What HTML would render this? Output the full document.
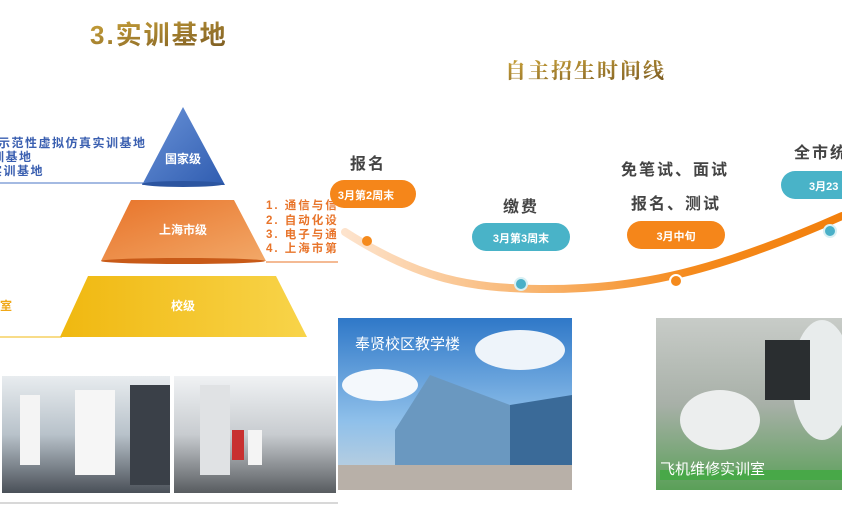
<!DOCTYPE html>
<html><head><meta charset="utf-8"><style>
html,body{margin:0;padding:0;background:#fff;width:842px;height:508px;overflow:hidden}
svg{display:block}
text{font-family:"Liberation Sans","Noto Sans CJK SC",sans-serif}
.s{font-family:"Liberation Serif","Noto Serif CJK SC",serif}
</style></head><body>
<svg width="842" height="508" viewBox="0 0 842 508" xmlns="http://www.w3.org/2000/svg">
<defs>
<linearGradient id="gold" x1="0" y1="0" x2="1" y2="1"><stop offset="0" stop-color="#c9a23a"/><stop offset="1" stop-color="#7a5a22"/></linearGradient>
<linearGradient id="blue" x1="0" y1="0" x2="1" y2="1"><stop offset="0" stop-color="#6a93d8"/><stop offset="1" stop-color="#2f5cb0"/></linearGradient>
<linearGradient id="orange" x1="0" y1="0" x2="1" y2="1"><stop offset="0" stop-color="#e8742a"/><stop offset="1" stop-color="#f2a868"/></linearGradient>
<linearGradient id="yellow" x1="0" y1="0" x2="1" y2="0"><stop offset="0" stop-color="#f0b810"/><stop offset="1" stop-color="#f8d44a"/></linearGradient>
<linearGradient id="curve" x1="0" y1="0" x2="1" y2="0"><stop offset="0" stop-color="#fde3cc"/><stop offset="0.4" stop-color="#f8b26a"/><stop offset="0.7" stop-color="#f58a1c"/><stop offset="1" stop-color="#f27f0c"/></linearGradient>
<linearGradient id="sky" x1="0" y1="0" x2="0" y2="1"><stop offset="0" stop-color="#2f78c8"/><stop offset="0.6" stop-color="#8fc0ea"/><stop offset="1" stop-color="#c8d4dc"/></linearGradient>
<linearGradient id="shop" x1="0" y1="0" x2="0" y2="1"><stop offset="0" stop-color="#c8ccc8"/><stop offset="0.5" stop-color="#a8b0a8"/><stop offset="1" stop-color="#5aa058"/></linearGradient>
<linearGradient id="p1" x1="0" y1="0" x2="0" y2="1"><stop offset="0" stop-color="#e8ecef"/><stop offset="0.5" stop-color="#b8c2ca"/><stop offset="1" stop-color="#4a5058"/></linearGradient>
<linearGradient id="p2" x1="0" y1="0" x2="0" y2="1"><stop offset="0" stop-color="#f0f2f4"/><stop offset="0.5" stop-color="#c8ccd0"/><stop offset="1" stop-color="#585c60"/></linearGradient>
</defs>

<text x="90" y="44" font-size="26" font-weight="bold" fill="url(#gold)" letter-spacing="2">3.实训基地</text>
<line x1="0" y1="183" x2="150" y2="183" stroke="#4a74c4" stroke-width="1"/>
<polygon points="183,107 225,185 142,185" fill="url(#blue)"/>
<ellipse cx="183" cy="184" rx="41" ry="3" fill="#2c55a0"/>
<text x="183" y="163" font-size="12" font-weight="bold" fill="#fff" text-anchor="middle">国家级</text>
<g font-size="12" font-weight="bold" fill="#3a5fb0" letter-spacing="1.5">
<text x="-2" y="147">示范性虚拟仿真实训基地</text>
<text x="-8" y="161">训基地</text>
<text x="-10" y="175">实训基地</text>
</g>
<polygon points="131,200 234,200 266,261 101,261" fill="url(#orange)"/>
<ellipse cx="183" cy="261" rx="82" ry="3" fill="#c85a18"/>
<line x1="266" y1="262" x2="338" y2="262" stroke="#e8742a" stroke-width="1"/>
<text x="183" y="234" font-size="12" font-weight="bold" fill="#fff" text-anchor="middle">上海市级</text>
<g font-size="11.5" font-weight="bold" fill="#e8742a" letter-spacing="2">
<text x="266" y="209">1. 通信与信</text>
<text x="266" y="224">2. 自动化设</text>
<text x="266" y="238">3. 电子与通</text>
<text x="266" y="252">4. 上海市第</text>
</g>
<polygon points="88,276 276,276 307,337 60,337" fill="url(#yellow)"/>
<line x1="0" y1="337" x2="62" y2="337" stroke="#f0b810" stroke-width="1"/>
<text x="183" y="310" font-size="12" font-weight="bold" fill="#fff" text-anchor="middle">校级</text>
<text x="0" y="310" font-size="12" font-weight="bold" fill="#f0a818">室</text>

<rect x="2" y="376" width="168" height="117" fill="url(#p1)"/>
<rect x="20" y="395" width="20" height="70" fill="#f4f4f4"/>
<rect x="75" y="390" width="40" height="85" fill="#f6f6f6"/>
<rect x="130" y="385" width="40" height="100" fill="#3a4048"/>
<rect x="174" y="376" width="162" height="117" fill="url(#p2)"/>
<rect x="200" y="385" width="30" height="90" fill="#e0e2e4"/>
<rect x="232" y="430" width="12" height="30" fill="#c83030"/>
<rect x="248" y="430" width="14" height="35" fill="#f4f4f4"/>
<line x1="0" y1="503" x2="338" y2="503" stroke="#d8d8d8" stroke-width="2"/>

<text x="505" y="78" font-size="21" font-weight="bold" fill="url(#gold)" letter-spacing="2" class="s">自主招生时间线</text>
<path d="M345,232 C420,280 470,288 540,289 C640,290 720,270 842,216" fill="none" stroke="url(#curve)" stroke-width="8" stroke-linecap="round"/>
<circle cx="367" cy="241" r="5" fill="#f58a1c"/>
<circle cx="521" cy="284" r="6" fill="#4ab0c8" stroke="#d8f0f4" stroke-width="2"/>
<circle cx="676" cy="281" r="6" fill="#f58a1c" stroke="#fff" stroke-width="2"/>
<circle cx="830" cy="231" r="6" fill="#4ab0c8" stroke="#d8f0f4" stroke-width="2"/>

<g class="s" font-size="16" fill="#444" font-weight="bold" letter-spacing="2">
<text x="350" y="169">报名</text>
<text x="503" y="212">缴费</text>
<text x="621" y="175">免笔试、面试</text>
<text x="631" y="209">报名、测试</text>
<text x="794" y="158">全市统</text>
</g>
<rect x="330" y="180" width="86" height="28" rx="14" fill="#f5861a"/>
<text x="366" y="199" font-size="11" font-weight="bold" fill="#fff" text-anchor="middle">3月第2周末</text>
<rect x="472" y="223" width="98" height="28" rx="14" fill="#49b3c8"/>
<text x="521" y="242" font-size="11" font-weight="bold" fill="#fff" text-anchor="middle">3月第3周末</text>
<rect x="627" y="221" width="98" height="28" rx="14" fill="#f5861a"/>
<text x="676" y="240" font-size="11" font-weight="bold" fill="#fff" text-anchor="middle">3月中旬</text>
<rect x="781" y="171" width="90" height="28" rx="14" fill="#49b3c8"/>
<text x="809" y="190" font-size="11" font-weight="bold" fill="#fff">3月23</text>

<rect x="338" y="318" width="234" height="172" fill="url(#sky)"/>
<ellipse cx="380" cy="385" rx="38" ry="16" fill="#f4f8fc"/>
<ellipse cx="520" cy="350" rx="45" ry="20" fill="#eef4fa"/>
<polygon points="395,430 430,375 510,405 510,475 395,470" fill="#6a98c0"/>
<polygon points="510,405 572,395 572,470 510,475" fill="#3a6a98"/>
<rect x="338" y="465" width="234" height="25" fill="#b8b0a8"/>
<text x="355" y="349" font-size="15" fill="#fff">奉贤校区教学楼</text>

<rect x="656" y="318" width="186" height="172" fill="url(#shop)"/>
<ellipse cx="822" cy="380" rx="30" ry="60" fill="#e8ecec"/>
<rect x="765" y="340" width="45" height="60" fill="#2a2e30"/>
<ellipse cx="720" cy="420" rx="40" ry="30" fill="#eceeee"/>
<rect x="660" y="470" width="182" height="10" fill="#48a848"/>
<text x="660" y="474" font-size="15" fill="#fff">飞机维修实训室</text>
</svg>
</body></html>
